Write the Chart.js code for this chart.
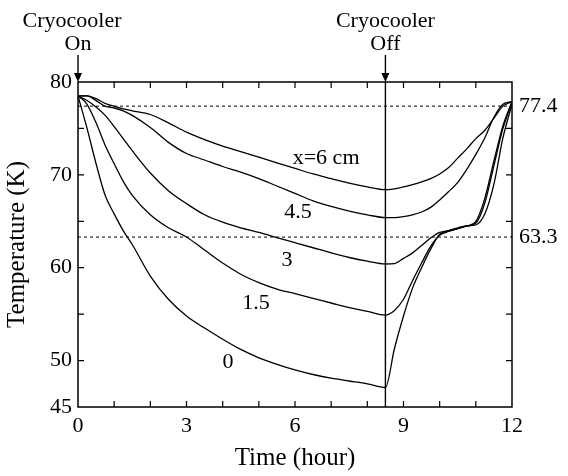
<!DOCTYPE html>
<html lang="en">
<head>
<meta charset="UTF-8">
<title>Cryocooler temperature history</title>
<script src="https://cdn.jsdelivr.net/npm/chart.js@4.4.1/dist/chart.umd.min.js"></script>
<style>
  body { margin: 0; background: #fff; }
  canvas { display: block; }
</style>
</head>
<body>
<canvas id="grafico" width="568" height="476"></canvas>
<script>
// time in hours, shared by all curves
const hours = [0, 0.25, 0.5, 0.75, 1, 1.25, 1.5, 2, 2.5, 3, 3.5, 4, 4.5, 5, 5.5, 6, 6.5, 7, 7.5, 8, 8.5,
               8.75, 9, 9.25, 9.5, 9.75, 10, 10.25, 10.5, 10.75, 11, 11.25, 11.5, 11.75, 12];

// temperature (K) at each position x
const temp6  = [78.5, 78.5, 78.2, 77.7, 77.4, 77.1, 76.9, 76.5, 75.6, 74.6, 73.8, 73.1, 72.5, 71.9, 71.3, 70.7, 70.1, 69.6, 69.1, 68.7, 68.4,
                68.5, 68.7, 68.95, 69.25, 69.6, 70.1, 70.8, 71.8, 72.8, 73.9, 74.8, 76.1, 77.4, 77.9];
const temp45 = [78.5, 78.5, 78.0, 77.4, 77.2, 76.9, 76.4, 75.1, 73.5, 72.3, 71.6, 70.9, 70.3, 69.6, 68.8, 68.0, 67.2, 66.6, 66.1, 65.7, 65.4,
                65.4, 65.5, 65.7, 66.0, 66.5, 67.3, 68.2, 69.2, 70.6, 72.2, 74.0, 76.2, 77.6, 77.9];
const temp3  = [78.5, 78.0, 77.3, 76.4, 75.2, 73.9, 72.6, 70.2, 68.3, 66.9, 65.7, 64.9, 64.3, 63.8, 63.25, 62.7, 62.15, 61.6, 61.1, 60.7, 60.4,
                60.45, 61.0, 61.6, 62.4, 63.2, 63.8, 64.0, 64.2, 64.5, 65.0, 67.5, 71.5, 75.3, 77.9];
const temp15 = [78.5, 77.6, 75.6, 73.2, 71.2, 69.3, 67.8, 65.7, 64.3, 63.3, 61.9, 60.5, 59.3, 58.4, 57.7, 57.2, 56.7, 56.2, 55.7, 55.3, 54.9,
                55.4, 56.6, 58.6, 60.5, 62.3, 63.5, 63.9, 64.2, 64.5, 64.8, 67.0, 71.0, 75.0, 77.8];
const temp0  = [78.5, 75.0, 71.2, 67.8, 65.8, 64.0, 62.5, 59.1, 56.6, 54.8, 53.5, 52.3, 51.2, 50.3, 49.6, 49.0, 48.5, 48.1, 47.8, 47.5, 47.1,
                51.3, 54.8, 57.8, 60.0, 62.0, 63.6, 64.0, 64.3, 64.5, 64.6, 65.8, 69.0, 74.0, 77.6];

const curveNames = ['x=6 cm', '4.5', '3', '1.5', '0'];
const xLabelTicks = [0, 3, 6, 9, 12];
const yLabelTicks = [45, 50, 60, 70, 80];
const refLevels = [77.4, 63.3];
const offTime = 8.5;

const serif = '"Liberation Serif", "Times New Roman", serif';
Chart.defaults.color = '#000';
Chart.defaults.font.family = serif;

function serie(vals) {
    return vals.map((v, i) => ({ x: hours[i], y: v }));
}

// where the curve names sit, in data units
const namePos = [[6.86, 71.8], [6.08, 66.0], [5.78, 60.8], [4.92, 56.2], [4.15, 49.8]];

const extras = {
    id: 'extras',
    beforeDatasetsDraw(chart) {
        const { ctx, chartArea: a, scales: { x, y } } = chart;
        ctx.save();
        ctx.strokeStyle = '#000';
        ctx.lineWidth = 1;
        ctx.setLineDash([3, 3]);
        refLevels.forEach(v => {
            const py = y.getPixelForValue(v);
            ctx.beginPath();
            ctx.moveTo(a.left, py);
            ctx.lineTo(a.right, py);
            ctx.stroke();
        });
        ctx.setLineDash([]);
        ctx.lineWidth = 1.4;
        const xo = x.getPixelForValue(offTime);
        ctx.beginPath();
        ctx.moveTo(xo, a.top);
        ctx.lineTo(xo, a.bottom);
        ctx.stroke();
        ctx.restore();
    },
    afterDatasetsDraw(chart) {
        const { ctx, chartArea: a, scales: { x, y } } = chart;
        ctx.save();
        ctx.strokeStyle = '#000';
        ctx.fillStyle = '#000';
        ctx.lineWidth = 1.5;
        ctx.strokeRect(a.left, a.top, a.right - a.left, a.bottom - a.top);

        // inward ticks
        ctx.lineWidth = 1.2;
        ctx.beginPath();
        for (let h = 1; h < 12; h++) {
            const px = x.getPixelForValue(h);
            ctx.moveTo(px, a.bottom); ctx.lineTo(px, a.bottom - 6);
            ctx.moveTo(px, a.top); ctx.lineTo(px, a.top + 6);
        }
        for (let k = 50; k < 80; k += 5) {
            const py = y.getPixelForValue(k);
            ctx.moveTo(a.left, py); ctx.lineTo(a.left + 6, py);
            ctx.moveTo(a.right, py); ctx.lineTo(a.right - 6, py);
        }
        ctx.stroke();

        // curve names
        ctx.font = '22px ' + serif;
        ctx.textAlign = 'center';
        ctx.textBaseline = 'middle';
        curveNames.forEach((n, i) => {
            ctx.fillText(n, x.getPixelForValue(namePos[i][0]), y.getPixelForValue(namePos[i][1]));
        });

        // cryocooler on / off arrows
        [[0, 'On'], [offTime, 'Off']].forEach(([t, word]) => {
            const px = x.getPixelForValue(t);
            ctx.fillText('Cryocooler', t === 0 ? px - 6 : px, 21);
            ctx.fillText(word, px, 44);
            ctx.lineWidth = 1.4;
            ctx.beginPath();
            ctx.moveTo(px, 55);
            ctx.lineTo(px, a.top - 4);
            ctx.stroke();
            ctx.beginPath();
            ctx.moveTo(px - 4, a.top - 9);
            ctx.lineTo(px + 4, a.top - 9);
            ctx.lineTo(px, a.top);
            ctx.closePath();
            ctx.fill();
        });
        ctx.restore();
    }
};

const linha = { borderColor: '#000', borderWidth: 1.3, pointRadius: 0, cubicInterpolationMode: 'monotone', fill: false };

new Chart(document.getElementById('grafico'), {
    type: 'line',
    data: {
        datasets: [
            { label: curveNames[0], data: serie(temp6), ...linha },
            { label: curveNames[1], data: serie(temp45), ...linha },
            { label: curveNames[2], data: serie(temp3), ...linha },
            { label: curveNames[3], data: serie(temp15), ...linha },
            { label: curveNames[4], data: serie(temp0), ...linha }
        ]
    },
    options: {
        responsive: false,
        animation: false,
        layout: { padding: { top: 82, left: 0, right: 0, bottom: 0 } },
        plugins: { legend: { display: false }, tooltip: { enabled: false } },
        scales: {
            x: {
                type: 'linear',
                min: 0, max: 12,
                grid: { display: false, drawTicks: false },
                border: { display: false },
                ticks: {
                    stepSize: 1, autoSkip: false, maxRotation: 0, padding: 6,
                    font: { size: 22 },
                    callback: v => xLabelTicks.includes(v) ? v : ''
                },
                title: { display: true, text: 'Time (hour)', font: { size: 25 }, padding: { bottom: 3 } },
                afterFit: s => { s.height = 69; }
            },
            y: {
                min: 45, max: 80,
                grid: { display: false, drawTicks: false },
                border: { display: false },
                afterBuildTicks: s => { s.ticks = [45, 50, 55, 60, 65, 70, 75, 80].map(v => ({ value: v })); },
                ticks: {
                    padding: 6, font: { size: 22 },
                    callback: v => yLabelTicks.includes(v) ? v : ''
                },
                title: { display: true, text: 'Temperature (K)', font: { size: 25 }, padding: { top: 2 } },
                afterFit: s => { s.width = 78; }
            },
            y2: {
                position: 'right',
                min: 45, max: 80,
                grid: { display: false, drawTicks: false },
                border: { display: false },
                afterBuildTicks: s => { s.ticks = refLevels.map(v => ({ value: v })); },
                ticks: { padding: 7, font: { size: 22 }, callback: v => v.toFixed(1) },
                afterFit: s => { s.width = 56; }
            }
        }
    },
    plugins: [extras]
});
</script>
</body>
</html>
